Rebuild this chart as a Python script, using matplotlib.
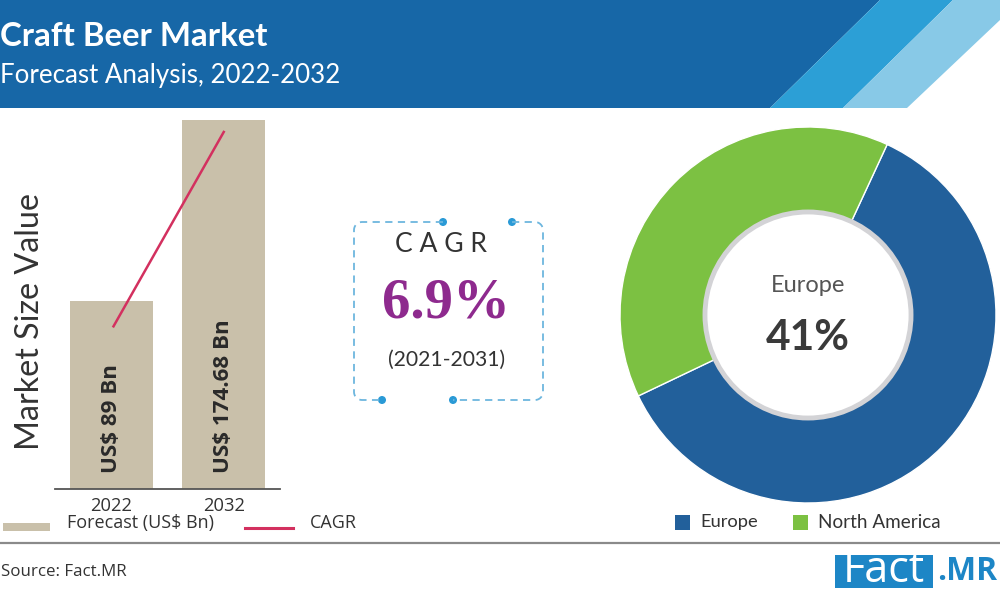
import numpy as np
import matplotlib
matplotlib.use("Agg")
import matplotlib.pyplot as plt
from matplotlib.patches import Polygon, Rectangle, Circle
import matplotlib.transforms as mtransforms

# ---------------- data ----------------
years = ["2022", "2032"]
market_value = [89, 174.68]
bar_labels = ["US$ 89 Bn", "US$ 174.68 Bn"]
cagr_line = [77, 169]
regions = ["Europe", "North America"]
region_share = [61, 39]
region_colors = ["#22609b", "#7cc142"]
cagr_value = "6.9%"
cagr_period = "(2021-2031)"
highlight_region = "Europe"
highlight_share = "41%"

BAR_COLOR = "#c9c0aa"
LINE_COLOR = "#d3305f"

fig = plt.figure(figsize=(10, 6), dpi=100)
renderer = fig.canvas.get_renderer()

# overlay axes in pixel coordinates
ax0 = fig.add_axes([0, 0, 1, 1])
ax0.set_xlim(0, 1000)
ax0.set_ylim(600, 0)
ax0.axis("off")


def fit(t, target, dim="w"):
    bb = t.get_window_extent(renderer)
    cur = bb.width if dim == "w" else bb.height
    t.set_fontsize(t.get_fontsize() * target / cur)
    return t


# ---------------- header ----------------
ax0.add_patch(Polygon([(0, 0), (880, 0), (770, 108), (0, 108)], closed=True,
                      facecolor="#1767a7", edgecolor="none"))
ax0.add_patch(Polygon([(880, 0), (953, 0), (843, 108), (770, 108)], closed=True,
                      facecolor="#2c9fd6", edgecolor="none"))
ax0.add_patch(Polygon([(953, 0), (1000, 0), (1000, 20), (907, 108), (843, 108)], closed=True,
                      facecolor="#88c9e7", edgecolor="none"))

t = ax0.text(0, 36, "Craft Beer Market", color="white", fontsize=20, fontweight="bold",
             family="Lato", ha="left", va="center")
fit(t, 268)
t = ax0.text(0, 76, "Forecast Analysis, 2022-2032", color="white", fontsize=16,
             family="Lato", ha="left", va="center")
fit(t, 340)

# ---------------- bar chart ----------------
axb = fig.add_axes([0.055, (600 - 489) / 600, 0.225, 379 / 600])
x = np.arange(len(years))
axb.bar(x, market_value, width=0.74, color=BAR_COLOR, zorder=2)
axb.plot([0.02, 1.0], cagr_line, color=LINE_COLOR, lw=1.8, zorder=3)
axb.set_xlim(-0.5, 1.5)
axb.set_ylim(0, 179.4)
for s in ["top", "right", "left"]:
    axb.spines[s].set_visible(False)
axb.spines["bottom"].set_color("#555555")
axb.spines["bottom"].set_linewidth(1.3)
axb.set_yticks([])
axb.set_xticks(x, years)
axb.tick_params(axis="x", length=0, pad=6)
for lab in axb.get_xticklabels():
    lab.set_family("Open Sans")
    lab.set_color("#333333")
    lab.set_fontsize(11)
fit(axb.get_xticklabels()[0], 42)
fs = axb.get_xticklabels()[0].get_fontsize()
axb.get_xticklabels()[1].set_fontsize(fs)

trans = mtransforms.blended_transform_factory(axb.transData, axb.transAxes)
blabs = []
for i, lab in enumerate(bar_labels):
    tt = axb.text(i, 16 / 379, lab, rotation=90, ha="center", va="bottom",
                  fontweight="bold", family="Open Sans", color="#2a2a2a",
                  fontsize=13, transform=trans, zorder=4)
    blabs.append(tt)
fit(blabs[1], 153, dim="h")
blabs[0].set_fontsize(blabs[1].get_fontsize())

t = ax0.text(30, 322, "Market Size Value", rotation=90, ha="center", va="center",
             family="Lato", color="#333333", fontsize=20)
fit(t, 257, dim="h")

# bar legend
ax0.add_patch(Rectangle((3, 523), 47, 8, facecolor=BAR_COLOR, edgecolor="none"))
t = ax0.text(67, 523, "Forecast (US$ Bn)", ha="left", va="center", family="Open Sans",
             color="#333333", fontsize=12)
fit(t, 146)
ax0.plot([245, 293], [528, 528], color=LINE_COLOR, lw=2.2)
t2 = ax0.text(310, 523, "CAGR", ha="left", va="center", family="Open Sans",
              color="#333333", fontsize=t.get_fontsize())

# ---------------- CAGR box ----------------
def arc(cx, cy, r, a0, a1, n=10):
    a = np.radians(np.linspace(a0, a1, n))
    return list(cx + r * np.cos(a)), list(cy + r * np.sin(a))

L, R_, T, B, rr = 354, 543, 222, 400, 8
xs, ys = [443, L + rr], [T, T]
ax_, ay_ = arc(L + rr, T + rr, rr, 270, 180)
xs += ax_; ys += ay_
xs += [L]; ys += [B - rr]
ax_, ay_ = arc(L + rr, B - rr, rr, 180, 90)
xs += ax_; ys += ay_
xs += [382]; ys += [B]
ax0.plot(xs, ys, color="#6db6de", lw=1.3, ls=(0, (4, 3)))

xs, ys = [512, R_ - rr], [T, T]
ax_, ay_ = arc(R_ - rr, T + rr, rr, 270, 360)
xs += ax_; ys += ay_
xs += [R_]; ys += [B - rr]
ax_, ay_ = arc(R_ - rr, B - rr, rr, 0, 90)
xs += ax_; ys += ay_
xs += [453]; ys += [B]
ax0.plot(xs, ys, color="#6db6de", lw=1.3, ls=(0, (4, 3)))
for (cx, cy) in [(443, T), (512, T), (382, B), (453, B)]:
    ax0.add_patch(Circle((cx, cy), 4, facecolor="#2a9ad6", edgecolor="none"))

t = ax0.text(441, 245, "C A G R", ha="center", va="center", family="Lato",
             color="#333333", fontsize=14)
fit(t, 92)
t = ax0.text(446, 304, cagr_value, ha="center", va="center", family="Liberation Serif",
             fontweight="bold", color="#8e2a8e", fontsize=40)
fit(t, 128)
t = ax0.text(447, 360, cagr_period, ha="center", va="center", family="Lato",
             color="#333333", fontsize=14)
fit(t, 118)

# ---------------- donut ----------------
axd = fig.add_axes([0.62, (600 - 503) / 600, 0.376, 376 / 600])
wedges, _ = axd.pie(region_share, colors=region_colors, startangle=205.5,
                    counterclock=True, radius=1,
                    wedgeprops=dict(width=0.47, edgecolor="white", linewidth=1))
for w in wedges:
    w.set_clip_on(False)
axd.set_xlim(-1, 1)
axd.set_ylim(-1, 1)
axd.add_patch(Circle((0, 0), 0.548, facecolor="white", edgecolor="#d3d3d6", lw=3.5, zorder=5))
t = axd.text(0, (315 - 285) / 188, highlight_region, ha="center", va="center", family="Lato",
             color="#555555", fontsize=14, zorder=6)
fit(t, 75)
t = axd.text(0, (315 - 338) / 188, highlight_share, ha="center", va="center", family="Lato",
             fontweight="bold", color="#3a3a3a", fontsize=26, zorder=6)
fit(t, 84)

# donut legend
legend_x = [675, 793]
legend_tx = [700, 818]
legend_w = [58, 122]
for i, name in enumerate(regions):
    ax0.add_patch(Rectangle((legend_x[i], 515), 15, 15, facecolor=region_colors[i], edgecolor="none"))
    t = ax0.text(legend_tx[i], 522, name, ha="left", va="center", family="Lato",
                 color="#333333", fontsize=12)
    fit(t, legend_w[i])

# ---------------- footer ----------------
ax0.plot([0, 1000], [543, 543], color="#8a8a8a", lw=1.6)
t = ax0.text(1, 572, "Source: Fact.MR", ha="left", va="center", family="Open Sans",
             color="#333333", fontsize=11)
fit(t, 126)
ax0.add_patch(Rectangle((835, 555), 98, 33, facecolor="#1d86c6", edgecolor="none"))
t = ax0.text(884, 571, "Fact", ha="center", va="center", family="Open Sans",
             color="white", fontsize=20)
fit(t, 82)
t = ax0.text(937, 571, ".MR", ha="left", va="center", family="Open Sans",
             fontweight="bold", color="#1d86c6", fontsize=20)
fit(t, 60)

fig.savefig("out.png", dpi=100)
